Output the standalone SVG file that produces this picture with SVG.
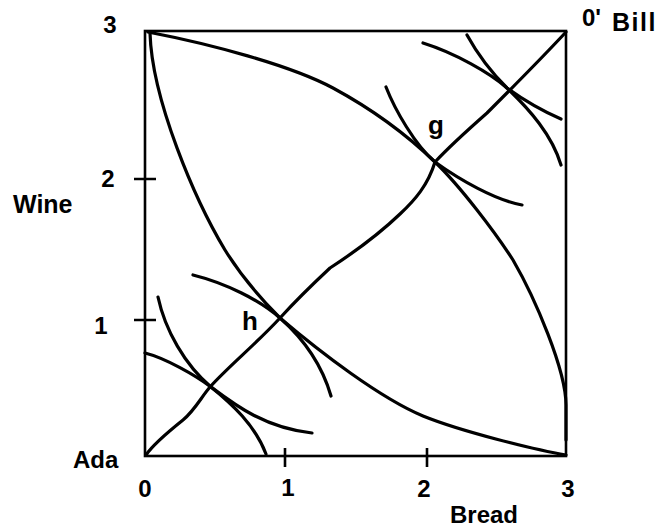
<svg xmlns="http://www.w3.org/2000/svg" width="666" height="527" viewBox="0 0 666 527">
<style>
.t{font-family:"Liberation Sans",Arial,sans-serif;font-weight:bold;font-size:24px;fill:#000}
.c{fill:none;stroke:#000;stroke-width:3.2;stroke-linecap:round;stroke-linejoin:round}
.b{fill:none;stroke:#000;stroke-width:2.6}
</style>
<rect width="666" height="527" fill="#fff"/>
<g id="box">
<rect class="b" x="145" y="31" width="421" height="425"/>
<path class="b" d="M134,179H156M134,320H156M285,448V467M427,448V467"/>
</g>
<g id="curves">
<path class="c" d="M148,32 C210,44 290,65 333,88 C370,108 405,133 435,162 C460,186 495,232 513,260 C535,298 566,370 566,405 L566,440"/>
<path class="c" d="M150,33 C152,100 195,200 225,250 C243,279 262,300 280,318 C320,352 380,398 423,416 C460,431 535,450 566,455"/>
<path class="c" d="M146,455 C152,446 168,432 183,420 C195,410 202,396 210,387 C230,365 255,345 280,318 C300,296 315,282 330,268 C350,255 375,238 400,214 C415,200 428,185 435,162 C448,148 470,128 487,113 C510,90 540,60 566,32"/>
<path class="c" d="M145,353 C165,358 195,375 211,387 C235,405 265,428 312,433"/>
<path class="c" d="M158,297 C165,330 185,365 211,387 C232,404 255,425 266,454"/>
<path class="c" d="M193,275 C225,283 260,300 280,318 C305,340 322,365 331,396"/>
<path class="c" d="M386,87 C395,110 415,145 435,162 C460,180 495,200 522,205"/>
<path class="c" d="M423,43 C455,53 490,73 507,88 C525,101 545,112 561,119"/>
<path class="c" d="M467,35 C478,55 492,73 507,88 C530,110 552,135 561,165"/>
</g>
<g id="labels">
<text class="t" x="110" y="33" text-anchor="middle">3</text>
<text class="t" x="108" y="187" text-anchor="middle">2</text>
<text class="t" x="101" y="334" text-anchor="middle">1</text>
<text class="t" x="13" y="213" style="font-size:25px">Wine</text>
<text class="t" x="73" y="468">Ada</text>
<text class="t" x="145" y="497" text-anchor="middle">0</text>
<text class="t" x="288" y="496" text-anchor="middle">1</text>
<text class="t" x="424" y="497" text-anchor="middle">2</text>
<text class="t" x="568" y="497" text-anchor="middle">3</text>
<text class="t" x="450" y="523">Bread</text>
<text class="t" x="582" y="26">0'</text>
<text class="t" x="612" y="31" letter-spacing="1.5" style="font-size:25px">Bill</text>
<text class="t" x="436" y="134" text-anchor="middle" style="font-size:26px">g</text>
<text class="t" x="250" y="330" text-anchor="middle" style="font-size:26px">h</text>
</g>
</svg>
